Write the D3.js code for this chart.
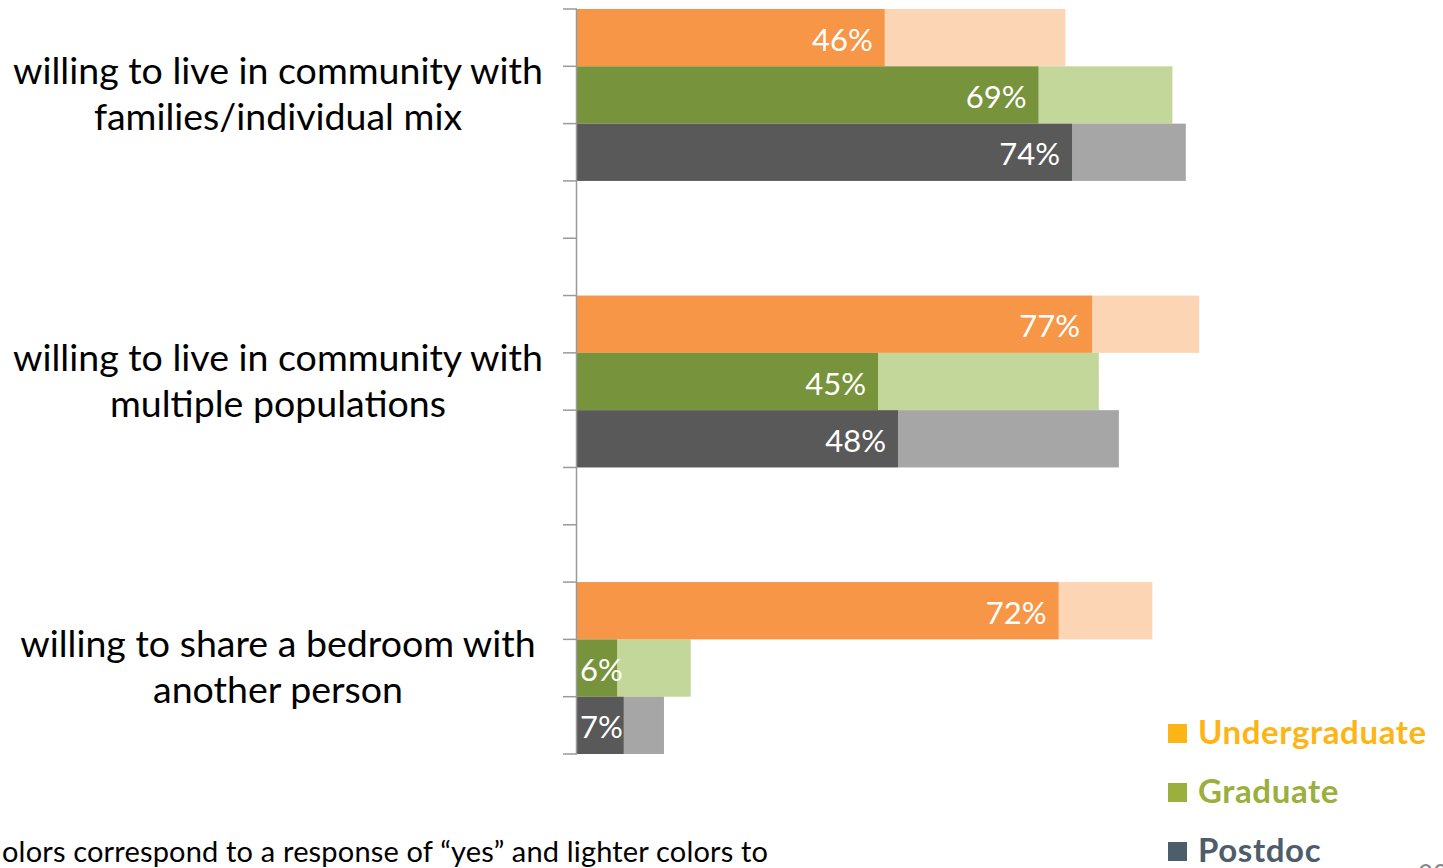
<!DOCTYPE html>
<html><head><meta charset="utf-8">
<script src="https://cdn.jsdelivr.net/npm/d3@7"></script>
<style>body{margin:0;background:#fff;overflow:hidden}svg{display:block}</style>
</head><body>
<svg id="c" width="1443" height="868"></svg>
<script>
const categories = [
  ["willing to live in community with", "families/individual mix"],
  ["willing to live in community with", "multiple populations"],
  ["willing to share a bedroom with", "another person"]
];
const groups = ["Undergraduate", "Graduate", "Postdoc"];
const yesUndergrad = [46, 77, 72];
const maybeUndergrad = [27, 16, 14];
const yesGrad = [69, 45, 6];
const maybeGrad = [20, 33, 11];
const yesPostdoc = [74, 48, 7];
const maybePostdoc = [17, 33, 6];

const darkColors = ["#F79646", "#77933C", "#595959"];
const lightColors = ["#FCD5B5", "#C4D79B", "#A6A6A6"];
const legendColors = ["#FDB515", "#9BAF3C", "#4E5D6C"];

const yes = [yesUndergrad, yesGrad, yesPostdoc];
const maybe = [maybeUndergrad, maybeGrad, maybePostdoc];

const svg = d3.select("#c");
const font = "Lato, 'Open Sans', sans-serif";

const x = d3.scaleLinear().domain([0, 100]).range([577, 1246]);
const slots = d3.range(13);
const y = d3.scaleBand().domain(slots).range([9, 754]).paddingInner(0).paddingOuter(0);

const rows = [];
categories.forEach((c, ci) => {
  groups.forEach((g, gi) => {
    rows.push({ci, gi, slot: ci * 5 + gi, yes: yes[gi][ci], maybe: maybe[gi][ci]});
  });
});

// light (total) bars
svg.selectAll("rect.light").data(rows).enter().append("rect")
  .attr("x", d => x(d.yes))
  .attr("y", d => y(d.slot))
  .attr("width", d => x(d.yes + d.maybe) - x(d.yes))
  .attr("height", y.bandwidth())
  .attr("fill", d => lightColors[d.gi]);
// dark (yes) bars
svg.selectAll("rect.dark").data(rows).enter().append("rect")
  .attr("x", x(0))
  .attr("y", d => y(d.slot))
  .attr("width", d => x(d.yes) - x(0))
  .attr("height", y.bandwidth())
  .attr("fill", d => darkColors[d.gi]);

// axis line and ticks at band boundaries
const bounds = slots.map(s => y(s)).concat([y(12) + y.bandwidth()]);
svg.append("line").attr("x1", x(0) - 0.5).attr("x2", x(0) - 0.5)
  .attr("y1", bounds[0]).attr("y2", bounds[bounds.length - 1])
  .attr("stroke", "#9a9a9a").attr("stroke-width", 1.5);
svg.selectAll("line.tick").data(bounds).enter().append("line")
  .attr("x1", x(0) - 14).attr("x2", x(0))
  .attr("y1", d => d).attr("y2", d => d)
  .attr("stroke", "#9a9a9a").attr("stroke-width", 1.5);

// value labels
svg.selectAll("text.val").data(rows).enter().append("text")
  .attr("font-family", font).attr("font-size", 31).attr("fill", "#fff")
  .attr("text-anchor", "end").attr("dominant-baseline", "central")
  .attr("y", d => y(d.slot) + y.bandwidth() / 2 + 1)
  .text(d => d.yes + "%")
  .each(function(d) {
    const w = this.getComputedTextLength();
    const xe = Math.max(x(d.yes) - 12, x(0) + 3 + w);
    d3.select(this).attr("x", xe);
  });

// category labels
categories.forEach((lines, ci) => {
  const cy = (y(ci * 5) + y(ci * 5 + 2) + y.bandwidth()) / 2;
  const t = svg.append("text").attr("font-family", font).attr("font-size", 37.5)
    .attr("fill", "#000").attr("text-anchor", "middle");
  lines.forEach((l, li) => {
    t.append("tspan").attr("x", 278).attr("y", cy + (li - 0.5) * 46 + 12).text(l);
  });
});

// legend
groups.forEach((g, gi) => {
  const ly = 733 + gi * 59;
  svg.append("rect").attr("x", 1168).attr("y", ly - 9).attr("width", 19).attr("height", 19)
    .attr("fill", legendColors[gi]);
  svg.append("text").attr("x", 1198).attr("y", ly + 11)
    .attr("font-family", font).attr("font-weight", "bold").attr("font-size", 33)
    .attr("letter-spacing", 0.6)
    .attr("fill", legendColors[gi]).text(g);
});

// footnote (partial sentence as visible)
svg.append("text").attr("x", 2).attr("y", 862)
  .attr("font-family", font).attr("font-size", 29).attr("fill", "#000")
  .attr("textLength", 766).attr("lengthAdjust", "spacing")
  .text("olors correspond to a response of \u201Cyes\u201D and lighter colors to");
// page number (partly below the edge, as in the slide)
svg.append("text").attr("x", 1418).attr("y", 884)
  .attr("font-family", font).attr("font-size", 26).attr("fill", "#888").text("20");
</script>
</body></html>
